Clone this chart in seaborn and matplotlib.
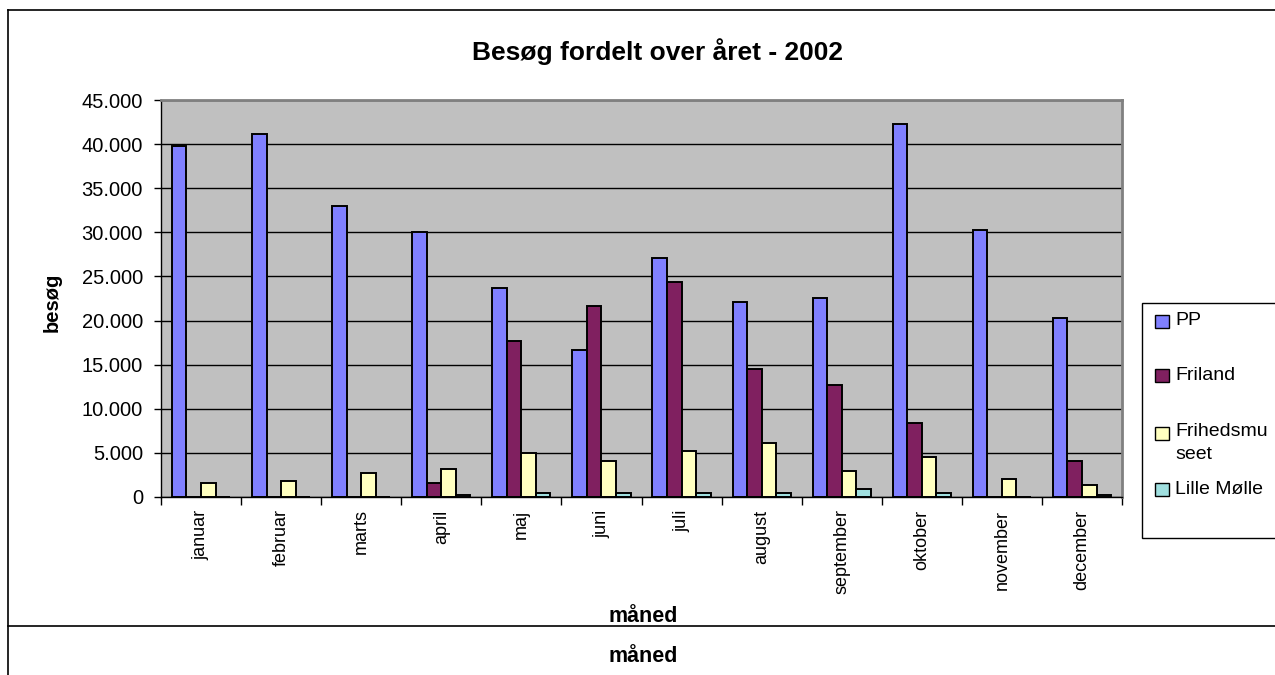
import pandas as pd
import seaborn as sns
import matplotlib.pyplot as plt
from matplotlib.patches import Rectangle
from matplotlib.lines import Line2D
from matplotlib.ticker import FuncFormatter, FixedLocator

months = ['januar', 'februar', 'marts', 'april', 'maj', 'juni', 'juli',
          'august', 'september', 'oktober', 'november', 'december']
series = ['PP', 'Friland', 'Frihedsmuseet', 'Lille Mølle']
legend_labels = ['PP', 'Friland', 'Frihedsmu\nseet', 'Lille Mølle']
pp = [39800, 41200, 33000, 30000, 23700, 16700, 27100, 22100, 22600,
      42300, 30300, 20300]
friland = [0, 0, 0, 1600, 17700, 21700, 24400, 14500, 12700, 8400, 0, 4100]
frihedsmuseet = [1600, 1850, 2750, 3200, 5000, 4100, 5200, 6100, 2950,
                 4500, 2050, 1400]
lille_moelle = [0, 0, 0, 250, 500, 500, 500, 500, 900, 450, 0, 200]
colors = ['#8080FF', '#802060', '#FFFFC0', '#A0E0E0']

plt.rcParams['font.family'] = ['Liberation Sans', 'DejaVu Sans']

df = pd.DataFrame({
    'måned': months * 4,
    'besøg': pp + friland + frihedsmuseet + lille_moelle,
    'serie': [s for s in series for _ in months],
})

W, H = 1275, 675
fig = plt.figure(figsize=(W / 100, H / 100), dpi=100)
ax = fig.add_axes([161 / W, 1 - 497 / H, (1122 - 161) / W, (497 - 100) / H])
ax.set_facecolor('#C0C0C0')

sns.barplot(data=df, x='måned', y='besøg', hue='serie', palette=colors,
            saturation=1, width=0.727, gap=0, edgecolor='black',
            linewidth=1.4, legend=False, ax=ax)

ax.set_ylim(0, 45000)
ax.set_xlim(-0.5, len(months) - 0.5)
ax.yaxis.set_major_locator(FixedLocator(range(0, 45001, 5000)))
ax.yaxis.set_major_formatter(FuncFormatter(
    lambda v, p: '{:,.0f}'.format(v).replace(',', '.')))
ax.yaxis.grid(True, color='black', linewidth=1)
ax.set_axisbelow(True)

ax.xaxis.set_minor_locator(FixedLocator([i - 0.5 for i in range(len(months) + 1)]))
ax.tick_params(axis='x', which='major', length=0, pad=9, labelsize=13,
               labelrotation=90)
ax.tick_params(axis='x', which='minor', length=6, width=1, color='black')
ax.tick_params(axis='y', length=5, width=1, pad=8, labelsize=14.5)

for s in ['left', 'bottom']:
    ax.spines[s].set_color('black')
    ax.spines[s].set_linewidth(1)
for s in ['top', 'right']:
    ax.spines[s].set_color('#808080')
    ax.spines[s].set_linewidth(2)

ax.set_xlabel('')
ax.set_ylabel('')
fig.text(52 / W, 1 - 302 / H, 'besøg', rotation=90, ha='center', va='center',
         fontsize=14.5, fontweight='bold')
fig.text(643 / W, 1 - 616 / H, 'måned', ha='center', va='center',
         fontsize=15.5, fontweight='bold')
fig.text(643 / W, 1 - 657 / H, 'måned', ha='center', va='center',
         fontsize=15.5, fontweight='bold')
fig.text(657 / W, 1 - 52 / H, 'Besøg fordelt over året - 2002', ha='center',
         va='center', fontsize=19, fontweight='bold')

# outer chart frame, plus the extra strip at the bottom
for xs, ys in [([8, 8], [10, H]), ([8, W], [10, 10]), ([8, W], [626, 626])]:
    fig.add_artist(Line2D([x / W for x in xs], [1 - y / H for y in ys],
                          color='black', linewidth=1.2))

# legend box (clipped by the right edge like the original)
fig.add_artist(Rectangle((1142 / W, 1 - 538 / H), 140 / W, 235 / H,
                         facecolor='white', edgecolor='black', linewidth=1,
                         transform=fig.transFigure))
rows = [321, 375, 433, 489]
for lab, col, y in zip(legend_labels, colors, rows):
    fig.add_artist(Rectangle((1155 / W, 1 - (y + 7) / H), 14 / W, 13 / H,
                             facecolor=col, edgecolor='black', linewidth=1,
                             transform=fig.transFigure))
    if '\n' in lab:
        fig.text(1175 / W, 1 - (y - 10) / H, lab, ha='left', va='top',
                 fontsize=14, linespacing=1.45)
    else:
        fig.text(1175 / W, 1 - y / H, lab, ha='left', va='center',
                 fontsize=14)

fig.savefig('out.png', dpi=100)
